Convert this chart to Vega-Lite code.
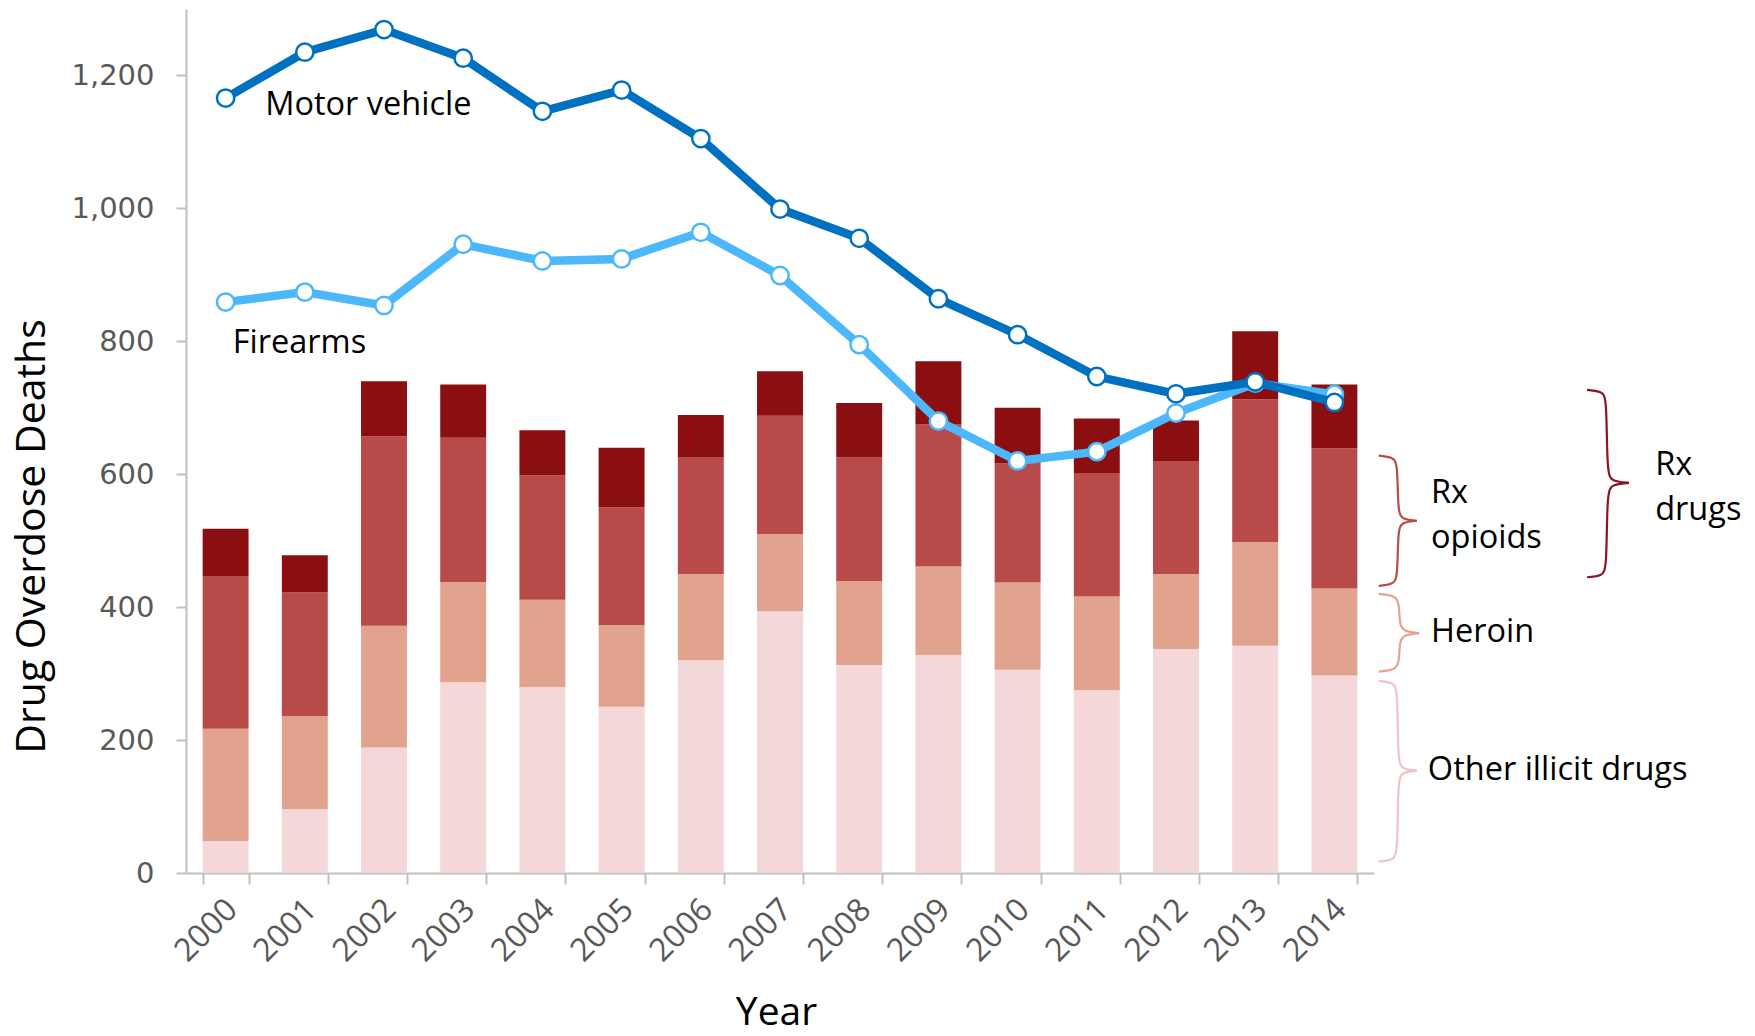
{
  "$schema": "https://vega.github.io/schema/vega-lite/v6.json",
  "width": 1188,
  "height": 864,
  "autosize": {"type": "none"},
  "padding": {"left": 186, "top": 9, "right": 381, "bottom": 163},
  "background": "white",
  "config": {"view": {"stroke": null}, "font": "Open Sans"},
  "datasets": {
    "bars": [
      {"year":"2000","drug":"Other illicit drugs","k":1,"deaths":48},{"year":"2000","drug":"Heroin","k":2,"deaths":169},{"year":"2000","drug":"Rx opioids","k":3,"deaths":230},{"year":"2000","drug":"Other Rx drugs","k":4,"deaths":71},
      {"year":"2001","drug":"Other illicit drugs","k":1,"deaths":96},{"year":"2001","drug":"Heroin","k":2,"deaths":140},{"year":"2001","drug":"Rx opioids","k":3,"deaths":186},{"year":"2001","drug":"Other Rx drugs","k":4,"deaths":56},
      {"year":"2002","drug":"Other illicit drugs","k":1,"deaths":189},{"year":"2002","drug":"Heroin","k":2,"deaths":183},{"year":"2002","drug":"Rx opioids","k":3,"deaths":285},{"year":"2002","drug":"Other Rx drugs","k":4,"deaths":83},
      {"year":"2003","drug":"Other illicit drugs","k":1,"deaths":287},{"year":"2003","drug":"Heroin","k":2,"deaths":151},{"year":"2003","drug":"Rx opioids","k":3,"deaths":217},{"year":"2003","drug":"Other Rx drugs","k":4,"deaths":80},
      {"year":"2004","drug":"Other illicit drugs","k":1,"deaths":280},{"year":"2004","drug":"Heroin","k":2,"deaths":131},{"year":"2004","drug":"Rx opioids","k":3,"deaths":187},{"year":"2004","drug":"Other Rx drugs","k":4,"deaths":68},
      {"year":"2005","drug":"Other illicit drugs","k":1,"deaths":250},{"year":"2005","drug":"Heroin","k":2,"deaths":123},{"year":"2005","drug":"Rx opioids","k":3,"deaths":177},{"year":"2005","drug":"Other Rx drugs","k":4,"deaths":90},
      {"year":"2006","drug":"Other illicit drugs","k":1,"deaths":320},{"year":"2006","drug":"Heroin","k":2,"deaths":130},{"year":"2006","drug":"Rx opioids","k":3,"deaths":176},{"year":"2006","drug":"Other Rx drugs","k":4,"deaths":63},
      {"year":"2007","drug":"Other illicit drugs","k":1,"deaths":394},{"year":"2007","drug":"Heroin","k":2,"deaths":116},{"year":"2007","drug":"Rx opioids","k":3,"deaths":178},{"year":"2007","drug":"Other Rx drugs","k":4,"deaths":67},
      {"year":"2008","drug":"Other illicit drugs","k":1,"deaths":313},{"year":"2008","drug":"Heroin","k":2,"deaths":126},{"year":"2008","drug":"Rx opioids","k":3,"deaths":186},{"year":"2008","drug":"Other Rx drugs","k":4,"deaths":82},
      {"year":"2009","drug":"Other illicit drugs","k":1,"deaths":328},{"year":"2009","drug":"Heroin","k":2,"deaths":133},{"year":"2009","drug":"Rx opioids","k":3,"deaths":214},{"year":"2009","drug":"Other Rx drugs","k":4,"deaths":95},
      {"year":"2010","drug":"Other illicit drugs","k":1,"deaths":306},{"year":"2010","drug":"Heroin","k":2,"deaths":131},{"year":"2010","drug":"Rx opioids","k":3,"deaths":179},{"year":"2010","drug":"Other Rx drugs","k":4,"deaths":84},
      {"year":"2011","drug":"Other illicit drugs","k":1,"deaths":275},{"year":"2011","drug":"Heroin","k":2,"deaths":141},{"year":"2011","drug":"Rx opioids","k":3,"deaths":186},{"year":"2011","drug":"Other Rx drugs","k":4,"deaths":82},
      {"year":"2012","drug":"Other illicit drugs","k":1,"deaths":337},{"year":"2012","drug":"Heroin","k":2,"deaths":113},{"year":"2012","drug":"Rx opioids","k":3,"deaths":170},{"year":"2012","drug":"Other Rx drugs","k":4,"deaths":61},
      {"year":"2013","drug":"Other illicit drugs","k":1,"deaths":342},{"year":"2013","drug":"Heroin","k":2,"deaths":156},{"year":"2013","drug":"Rx opioids","k":3,"deaths":215},{"year":"2013","drug":"Other Rx drugs","k":4,"deaths":102},
      {"year":"2014","drug":"Other illicit drugs","k":1,"deaths":297},{"year":"2014","drug":"Heroin","k":2,"deaths":131},{"year":"2014","drug":"Rx opioids","k":3,"deaths":211},{"year":"2014","drug":"Other Rx drugs","k":4,"deaths":96}
    ],
    "lines": [
      {"series":"Firearms","year":"2000","deaths":859},{"series":"Firearms","year":"2001","deaths":874},{"series":"Firearms","year":"2002","deaths":854},{"series":"Firearms","year":"2003","deaths":946},{"series":"Firearms","year":"2004","deaths":921},{"series":"Firearms","year":"2005","deaths":924},{"series":"Firearms","year":"2006","deaths":964},{"series":"Firearms","year":"2007","deaths":899},{"series":"Firearms","year":"2008","deaths":795},{"series":"Firearms","year":"2009","deaths":680},{"series":"Firearms","year":"2010","deaths":620},{"series":"Firearms","year":"2011","deaths":634},{"series":"Firearms","year":"2012","deaths":692},{"series":"Firearms","year":"2013","deaths":737},{"series":"Firearms","year":"2014","deaths":720},
      {"series":"Motor vehicle","year":"2000","deaths":1166},{"series":"Motor vehicle","year":"2001","deaths":1235},{"series":"Motor vehicle","year":"2002","deaths":1269},{"series":"Motor vehicle","year":"2003","deaths":1226},{"series":"Motor vehicle","year":"2004","deaths":1146},{"series":"Motor vehicle","year":"2005","deaths":1178},{"series":"Motor vehicle","year":"2006","deaths":1105},{"series":"Motor vehicle","year":"2007","deaths":999},{"series":"Motor vehicle","year":"2008","deaths":955},{"series":"Motor vehicle","year":"2009","deaths":864},{"series":"Motor vehicle","year":"2010","deaths":810},{"series":"Motor vehicle","year":"2011","deaths":747},{"series":"Motor vehicle","year":"2012","deaths":721},{"series":"Motor vehicle","year":"2013","deaths":739},{"series":"Motor vehicle","year":"2014","deaths":708}
    ],
    "braces": [
      {"brace":"opioids","part":"oU","i":1,"pos":15.06,"deaths":628},{"brace":"opioids","part":"oU","i":2,"pos":15.24,"deaths":625.7},{"brace":"opioids","part":"oU","i":3,"pos":15.30,"deaths":616},{"brace":"opioids","part":"oU","i":4,"pos":15.30,"deaths":542},{"brace":"opioids","part":"oU","i":5,"pos":15.36,"deaths":532.3},{"brace":"opioids","part":"oU","i":6,"pos":15.54,"deaths":530},
      {"brace":"opioids","part":"oL","i":1,"pos":15.06,"deaths":432},{"brace":"opioids","part":"oL","i":2,"pos":15.24,"deaths":434.3},{"brace":"opioids","part":"oL","i":3,"pos":15.30,"deaths":444},{"brace":"opioids","part":"oL","i":4,"pos":15.30,"deaths":518},{"brace":"opioids","part":"oL","i":5,"pos":15.36,"deaths":527.7},{"brace":"opioids","part":"oL","i":6,"pos":15.54,"deaths":530},
      {"brace":"heroin","part":"hU","i":1,"pos":15.06,"deaths":420},{"brace":"heroin","part":"hU","i":2,"pos":15.255,"deaths":417.7},{"brace":"heroin","part":"hU","i":3,"pos":15.32,"deaths":408},{"brace":"heroin","part":"hU","i":4,"pos":15.32,"deaths":373},{"brace":"heroin","part":"hU","i":5,"pos":15.38,"deaths":363.3},{"brace":"heroin","part":"hU","i":6,"pos":15.57,"deaths":361},
      {"brace":"heroin","part":"hL","i":1,"pos":15.06,"deaths":303},{"brace":"heroin","part":"hL","i":2,"pos":15.255,"deaths":305.3},{"brace":"heroin","part":"hL","i":3,"pos":15.32,"deaths":315},{"brace":"heroin","part":"hL","i":4,"pos":15.32,"deaths":349},{"brace":"heroin","part":"hL","i":5,"pos":15.38,"deaths":358.7},{"brace":"heroin","part":"hL","i":6,"pos":15.57,"deaths":361},
      {"brace":"illicit","part":"iU","i":1,"pos":15.06,"deaths":289},{"brace":"illicit","part":"iU","i":2,"pos":15.24,"deaths":286.7},{"brace":"illicit","part":"iU","i":3,"pos":15.30,"deaths":277},{"brace":"illicit","part":"iU","i":4,"pos":15.30,"deaths":166},{"brace":"illicit","part":"iU","i":5,"pos":15.36,"deaths":156.3},{"brace":"illicit","part":"iU","i":6,"pos":15.54,"deaths":154},
      {"brace":"illicit","part":"iL","i":1,"pos":15.06,"deaths":17},{"brace":"illicit","part":"iL","i":2,"pos":15.24,"deaths":19.3},{"brace":"illicit","part":"iL","i":3,"pos":15.30,"deaths":29},{"brace":"illicit","part":"iL","i":4,"pos":15.30,"deaths":142},{"brace":"illicit","part":"iL","i":5,"pos":15.36,"deaths":151.7},{"brace":"illicit","part":"iL","i":6,"pos":15.54,"deaths":154},
      {"brace":"rx","part":"rU","i":1,"pos":17.69,"deaths":727},{"brace":"rx","part":"rU","i":2,"pos":17.88,"deaths":724.7},{"brace":"rx","part":"rU","i":3,"pos":17.94,"deaths":715},{"brace":"rx","part":"rU","i":4,"pos":17.94,"deaths":599},{"brace":"rx","part":"rU","i":5,"pos":18.01,"deaths":589.3},{"brace":"rx","part":"rU","i":6,"pos":18.22,"deaths":587},
      {"brace":"rx","part":"rL","i":1,"pos":17.69,"deaths":445},{"brace":"rx","part":"rL","i":2,"pos":17.88,"deaths":447.3},{"brace":"rx","part":"rL","i":3,"pos":17.94,"deaths":457},{"brace":"rx","part":"rL","i":4,"pos":17.94,"deaths":575},{"brace":"rx","part":"rL","i":5,"pos":18.01,"deaths":584.7},{"brace":"rx","part":"rL","i":6,"pos":18.22,"deaths":587}
    ],
    "labels": [
      {"label":"Motor vehicle","pos":1.0,"deaths":1155},
      {"label":"Firearms","pos":0.59,"deaths":797},
      {"label":"Rx\nopioids","pos":15.72,"deaths":572},
      {"label":"Heroin","pos":15.72,"deaths":362},
      {"label":"Other illicit drugs","pos":15.68,"deaths":155},
      {"label":"Rx\ndrugs","pos":18.55,"deaths":614}
    ]
  },
  "layer": [
    {
      "layer": [
        {
          "data": {"name": "bars"},
          "mark": {"type": "bar"},
          "encoding": {
            "x": {
              "field": "year", "type": "ordinal",
              "scale": {"paddingInner": 0.42, "paddingOuter": 0.21},
              "axis": {
                "title": "Year", "tickBand": "extent", "labelAngle": -45, "labelAlign": "right", "labelBaseline": "middle",
                "labelFont": "Open Sans", "labelFontSize": 32, "labelColor": "#595959", "labelPadding": 20, "labelOffset": 6,
                "domainColor": "#c0c0c0", "domainWidth": 2, "tickColor": "#c0c0c0", "tickWidth": 2, "tickSize": 11,
                "titleFont": "Open Sans", "titleFontSize": 39, "titleFontWeight": "normal", "titleColor": "black",
                "titleX": 590, "titleY": 139, "titleBaseline": "middle", "titleAlign": "center"
              }
            },
            "y": {
              "field": "deaths", "type": "quantitative", "stack": "zero",
              "scale": {"domain": [0, 1300], "nice": false},
              "axis": {
                "title": "Drug Overdose Deaths", "values": [0, 200, 400, 600, 800, 1000, 1200], "format": ",.0f", "grid": false,
                "domainColor": "#c0c0c0", "domainWidth": 2, "tickColor": "#c0c0c0", "tickWidth": 2, "tickSize": 10,
                "labelFont": "DejaVu Sans", "labelFontSize": 29, "labelColor": "#595959", "labelPadding": 22,
                "titleFont": "Open Sans", "titleFontSize": 41, "titleFontWeight": "normal", "titleColor": "black",
                "titleX": -154, "titleY": 527, "titleAngle": -90, "titleBaseline": "middle", "titleAlign": "center"
              }
            },
            "color": {
              "field": "drug", "type": "nominal",
              "scale": {"domain": ["Other illicit drugs", "Heroin", "Rx opioids", "Other Rx drugs"], "range": ["#f4d7d9", "#e2a38e", "#b84a49", "#8b0f11"]},
              "legend": null
            },
            "order": {"field": "k", "type": "quantitative"}
          }
        },
        {
          "data": {"name": "lines"},
          "transform": [{"filter": "datum.series === 'Firearms'"}],
          "mark": {"type": "line", "color": "#4cb8fb", "strokeWidth": 8.5},
          "encoding": {"x": {"field": "year", "type": "ordinal"}, "y": {"field": "deaths", "type": "quantitative"}}
        },
        {
          "data": {"name": "lines"},
          "transform": [{"filter": "datum.series === 'Firearms'"}],
          "mark": {"type": "point", "filled": true, "fill": "white", "stroke": "#4cb8fb", "strokeWidth": 2.5, "size": 300, "opacity": 1},
          "encoding": {"x": {"field": "year", "type": "ordinal"}, "y": {"field": "deaths", "type": "quantitative"}}
        },
        {
          "data": {"name": "lines"},
          "transform": [{"filter": "datum.series === 'Motor vehicle'"}],
          "mark": {"type": "line", "color": "#0070c0", "strokeWidth": 8.5},
          "encoding": {"x": {"field": "year", "type": "ordinal"}, "y": {"field": "deaths", "type": "quantitative"}}
        },
        {
          "data": {"name": "lines"},
          "transform": [{"filter": "datum.series === 'Motor vehicle'"}],
          "mark": {"type": "point", "filled": true, "fill": "white", "stroke": "#0070c0", "strokeWidth": 2.5, "size": 300, "opacity": 1},
          "encoding": {"x": {"field": "year", "type": "ordinal"}, "y": {"field": "deaths", "type": "quantitative"}}
        }
      ]
    },
    {
      "layer": [
        {
          "data": {"name": "braces"},
          "mark": {"type": "line", "strokeWidth": 2.2, "interpolate": "basis"},
          "encoding": {
            "x": {"field": "pos", "type": "quantitative", "scale": {"domain": [0, 15], "nice": false, "zero": false}, "axis": null},
            "y": {"field": "deaths", "type": "quantitative"},
            "detail": {"field": "part", "type": "nominal"},
            "stroke": {
              "field": "brace", "type": "nominal",
              "scale": {"domain": ["opioids", "heroin", "illicit", "rx"], "range": ["#b84a4a", "#e6a48f", "#f2c2c4", "#8b1426"]},
              "legend": null
            },
            "order": {"field": "i", "type": "quantitative"}
          }
        },
        {
          "data": {"name": "labels"},
          "mark": {"type": "text", "align": "left", "baseline": "middle", "font": "Open Sans", "fontSize": 32.5, "color": "black", "lineBreak": "\n", "lineHeight": 45},
          "encoding": {
            "x": {"field": "pos", "type": "quantitative"},
            "y": {"field": "deaths", "type": "quantitative"},
            "text": {"field": "label"}
          }
        }
      ]
    }
  ],
  "resolve": {"scale": {"x": "independent"}, "axis": {"x": "independent"}}
}
